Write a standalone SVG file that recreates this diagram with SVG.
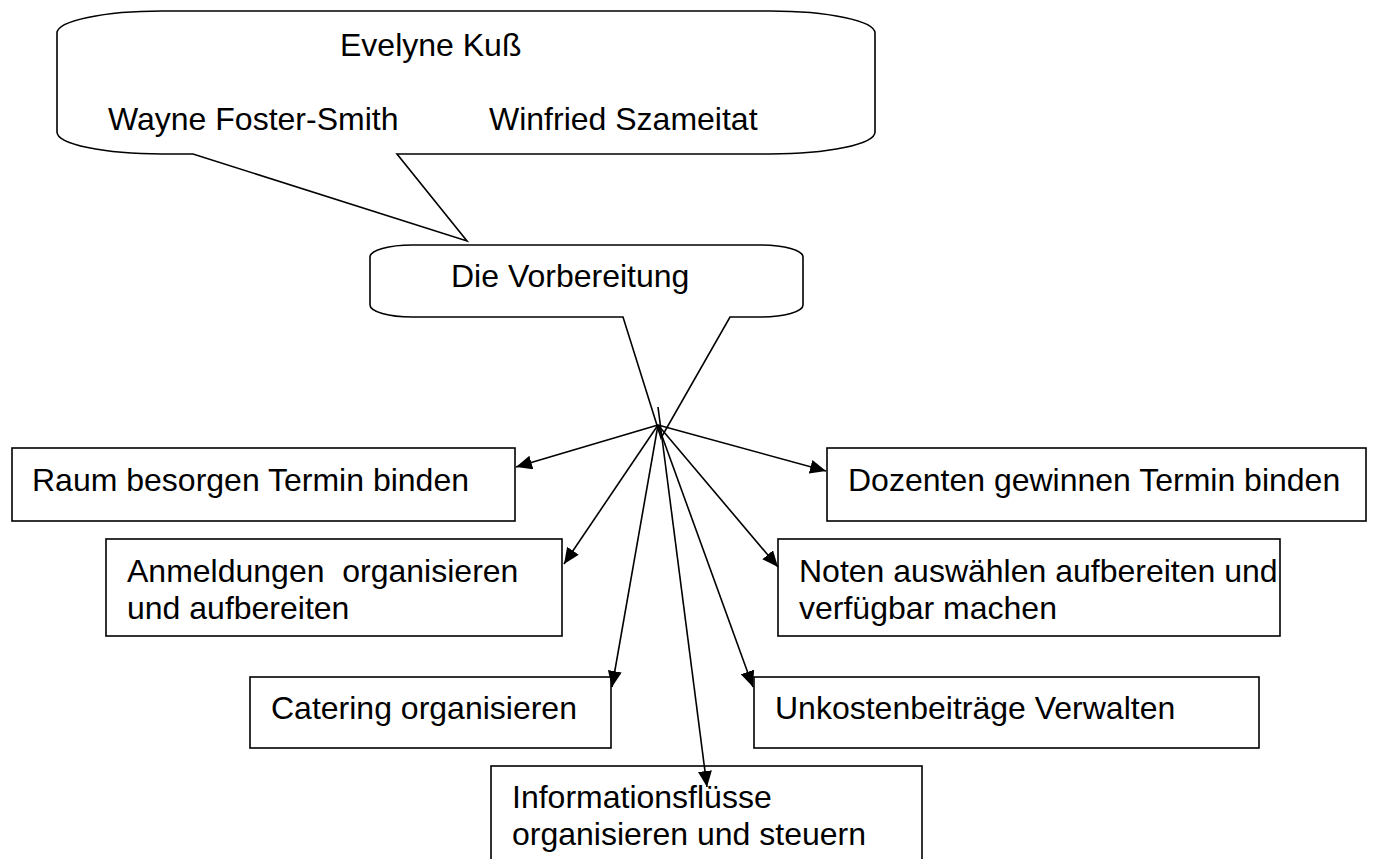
<svg xmlns="http://www.w3.org/2000/svg" width="1384" height="859" viewBox="0 0 1384 859">
<style>
  .shape { fill: #ffffff; stroke: #000000; stroke-width: 1.6; }
  .lbl { font-family: "Liberation Sans", Arial, sans-serif; font-size: 32px; fill: #000000; }
  .conn { stroke: #000000; stroke-width: 1.6; fill: none; }
</style>
<defs>
  <marker id="arrow" markerUnits="userSpaceOnUse" viewBox="0 0 16 14" refX="16" refY="7" markerWidth="16" markerHeight="14" orient="auto">
    <path d="M0,0 L16,7 L0,14 Z" fill="#000000"/>
  </marker>
</defs>
<rect width="1384" height="859" fill="#ffffff"/>

<g id="callout-vorbereitung">
  <path class="shape" d="M 412 245 H 761 A 42 12 0 0 1 803 257 V 305 A 42 12 0 0 1 761 317 H 730 L 661 438 L 623 317 H 412 A 42 12 0 0 1 370 305 V 257 A 42 12 0 0 1 412 245 Z"/>
  <text class="lbl" x="451" y="287">Die Vorbereitung</text>
</g>

<g id="callout-team">
  <path class="shape" d="M 162 11 H 770 A 105 22 0 0 1 875 33 V 132 A 105 22 0 0 1 770 154 H 397 L 467 241 L 193 154 H 162 A 105 22 0 0 1 57 132 V 33 A 105 22 0 0 1 162 11 Z"/>
  <text class="lbl" x="340" y="56">Evelyne Kuß</text>
  <text class="lbl" x="108" y="130">Wayne Foster-Smith</text>
  <text class="lbl" x="489" y="130">Winfried Szameitat</text>
</g>

<g id="node-raum">
  <rect class="shape" x="12" y="448" width="503" height="73"/>
  <text class="lbl" x="32" y="491">Raum besorgen Termin binden</text>
</g>
<g id="node-dozenten">
  <rect class="shape" x="827" y="448" width="539" height="73"/>
  <text class="lbl" x="848" y="491">Dozenten gewinnen Termin binden</text>
</g>
<g id="node-anmeldungen">
  <rect class="shape" x="106" y="539" width="456" height="97"/>
  <text class="lbl" x="127" y="582" xml:space="preserve">Anmeldungen  organisieren</text>
  <text class="lbl" x="127" y="619">und aufbereiten</text>
</g>
<g id="node-noten">
  <rect class="shape" x="778" y="539" width="502" height="97"/>
  <text class="lbl" x="799" y="582">Noten auswählen aufbereiten und</text>
  <text class="lbl" x="799" y="619">verfügbar machen</text>
</g>
<g id="node-catering">
  <rect class="shape" x="250" y="677" width="361" height="71"/>
  <text class="lbl" x="271" y="719">Catering organisieren</text>
</g>
<g id="node-unkosten">
  <rect class="shape" x="754" y="677" width="505" height="71"/>
  <text class="lbl" x="775" y="719">Unkostenbeiträge Verwalten</text>
</g>
<g id="node-info">
  <rect class="shape" x="491" y="766" width="431" height="110"/>
  <text class="lbl" x="512" y="808">Informationsflüsse</text>
  <text class="lbl" x="512" y="845">organisieren und steuern</text>
</g>

<g id="connectors">
  <line class="conn" x1="658" y1="425" x2="516" y2="467" marker-end="url(#arrow)"/>
  <line class="conn" x1="658" y1="425" x2="826" y2="471" marker-end="url(#arrow)"/>
  <line class="conn" x1="658" y1="425" x2="564" y2="564" marker-end="url(#arrow)"/>
  <line class="conn" x1="658" y1="425" x2="778" y2="567" marker-end="url(#arrow)"/>
  <line class="conn" x1="658" y1="425" x2="612" y2="687" marker-end="url(#arrow)"/>
  <line class="conn" x1="658" y1="425" x2="753" y2="687" marker-end="url(#arrow)"/>
  <line class="conn" x1="658" y1="407" x2="707" y2="787" marker-end="url(#arrow)"/>
</g>
</svg>
